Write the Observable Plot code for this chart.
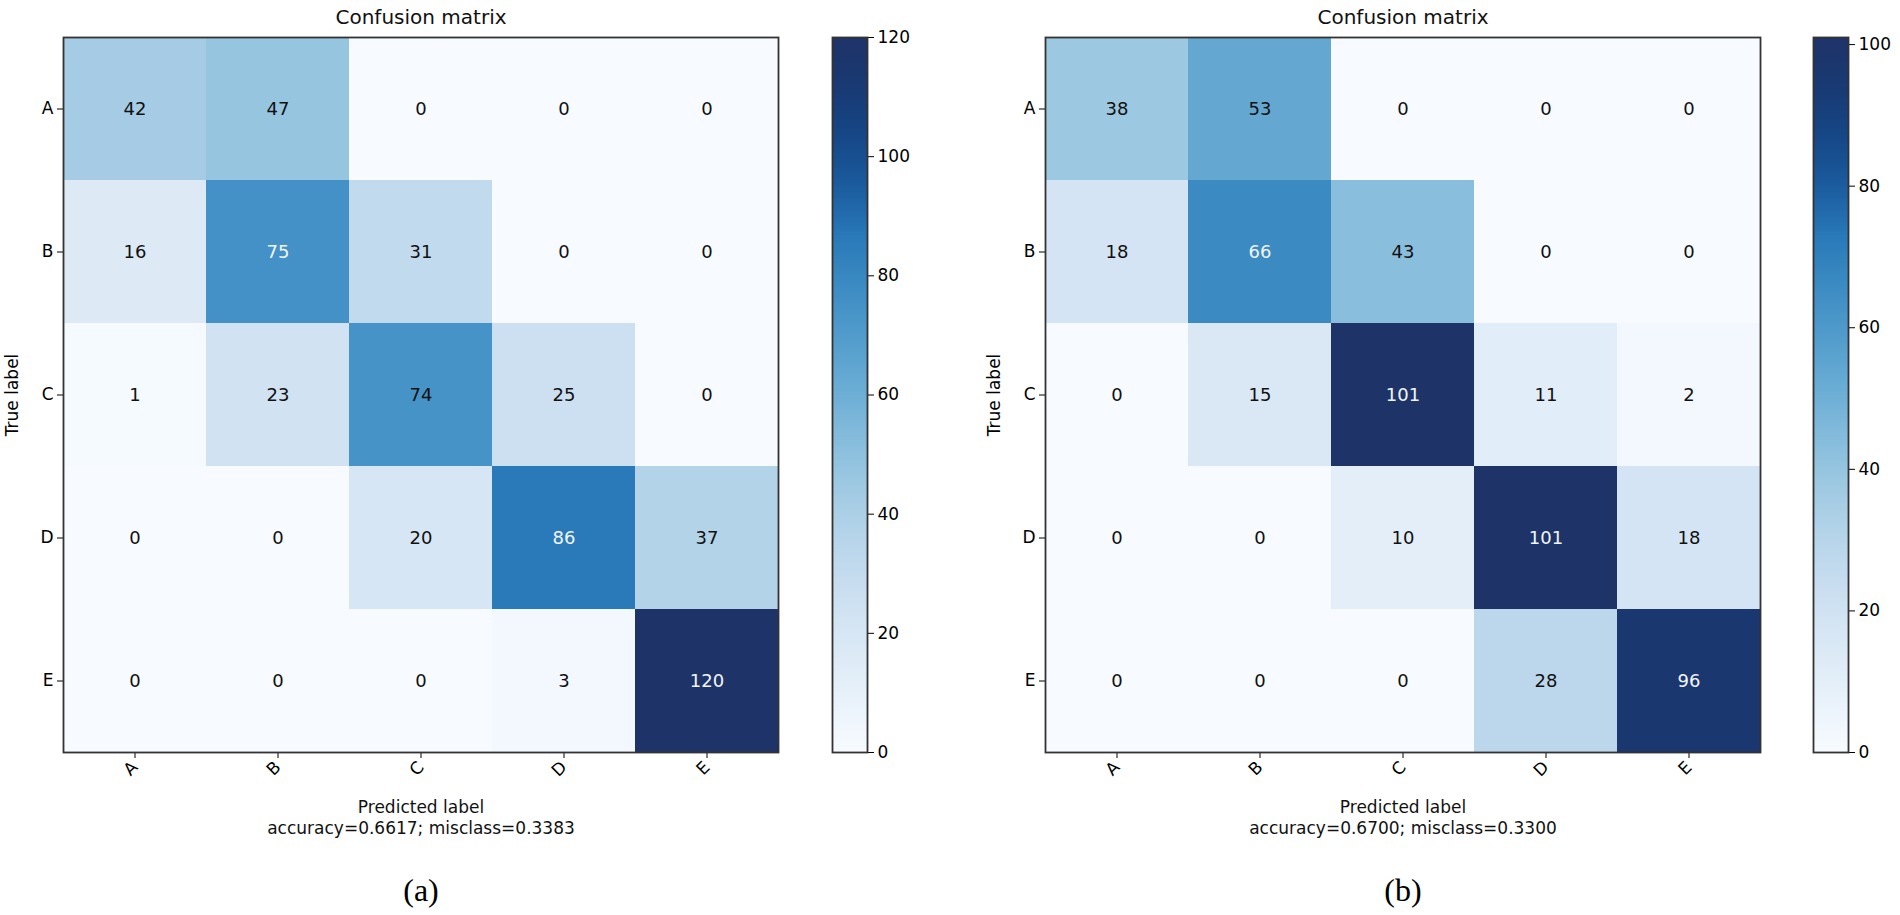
<!DOCTYPE html>
<html>
<head>
<meta charset="utf-8">
<script src="https://cdn.jsdelivr.net/npm/d3@7"></script>
<script src="https://cdn.jsdelivr.net/npm/@observablehq/plot@0.6"></script>
<style>
  html, body { margin: 0; padding: 0; background: #ffffff; }
  #wrap { position: relative; width: 1900px; height: 915px; overflow: hidden; font-family: "DejaVu Sans", sans-serif; }
  .panel { position: absolute; top: 0; }
  svg { overflow: visible; max-width: none !important; }
</style>
</head>
<body>
<div id="wrap"></div>
<script>
// ---- data ----
const classLabels = ["A", "B", "C", "D", "E"];
const matrixA = [
  [42, 47, 0, 0, 0],
  [16, 75, 31, 0, 0],
  [1, 23, 74, 25, 0],
  [0, 0, 20, 86, 37],
  [0, 0, 0, 3, 120]
];
const matrixB = [
  [38, 53, 0, 0, 0],
  [18, 66, 43, 0, 0],
  [0, 15, 101, 11, 2],
  [0, 0, 10, 101, 18],
  [0, 0, 0, 28, 96]
];
const ticksA = [0, 20, 40, 60, 80, 100, 120];
const ticksB = [0, 20, 40, 60, 80, 100];
const titleText = "Confusion matrix";
const xLabelText = "Predicted label";
const yLabelText = "True label";
const statsA = "accuracy=0.6617; misclass=0.3383";
const statsB = "accuracy=0.6700; misclass=0.3300";
const captionA = "(a)";
const captionB = "(b)";

// ---- layout ----
const W = 1900, H = 915;
const frameTop = 37, frameBottom = 752, frameSize = 715;
const FONT = "DejaVu Sans";
const wrap = document.getElementById("wrap");

// matplotlib-like "Blues" with the slightly muted navy end seen in the figure
const navy = "#223569";
const blues = t => {
  const base = d3.interpolateBlues(t);
  const k = Math.max(0, (t - 0.72) / 0.28);
  return d3.interpolateRgb(base, navy)(k * 0.85);
};

function panel(matrix, ticks, stats, caption, frameLeft, barLeft) {
  const vmax = d3.max(matrix.flat());
  const thr = vmax * 0.62;
  const cells = matrix.flatMap((row, i) => row.map((v, j) => ({t: classLabels[i], p: classLabels[j], v})));
  const mLeft = 70;
  const chart = Plot.plot({
    width: mLeft + frameSize + 20,
    height: H,
    marginLeft: mLeft,
    marginRight: 20,
    marginTop: frameTop,
    marginBottom: H - frameBottom,
    style: {fontFamily: FONT, fontSize: "17px", color: "#000", background: "transparent"},
    x: {domain: classLabels, padding: 0, label: null, tickRotate: -45, tickSize: 6, tickPadding: 6},
    y: {domain: classLabels, padding: 0, label: yLabelText, labelAnchor: "center", labelOffset: 58, tickSize: 6, tickPadding: 4},
    color: {type: "linear", interpolate: blues, domain: [0, vmax]},
    marks: [
      Plot.cell(cells, {x: "p", y: "t", fill: "v", shapeRendering: "crispEdges"}),
      Plot.text(cells, {x: "p", y: "t", text: d => String(d.v), fill: d => d.v > thr ? "#f2f5fa" : "#111111", fontSize: 18}),
      Plot.frame({stroke: "#333", strokeWidth: 1.8}),
      Plot.text([titleText], {frameAnchor: "top", dy: -20, lineAnchor: "middle", fontSize: 20, fill: "#111"}),
      Plot.text([xLabelText], {frameAnchor: "bottom", dy: 55, lineAnchor: "middle", fontSize: 17, fill: "#111"}),
      Plot.text([stats], {frameAnchor: "bottom", dy: 76, lineAnchor: "middle", fontSize: 17, fill: "#111"}),
      Plot.text([caption], {frameAnchor: "bottom", dy: 138, lineAnchor: "middle", fontSize: 32, fontFamily: "Liberation Serif", fill: "#000"})
    ]
  });
  const d1 = document.createElement("div");
  d1.className = "panel";
  d1.style.left = (frameLeft - mLeft) + "px";
  d1.style.width = (mLeft + frameSize + 20) + "px";
  d1.appendChild(chart);
  wrap.appendChild(d1);

  // colorbar
  const step = vmax / 300;
  const stops = d3.range(0, vmax, step);
  const barW = 35;
  const barMR = 50;
  const bar = Plot.plot({
    width: barW + barMR,
    height: H,
    marginLeft: 0,
    marginRight: barMR,
    marginTop: frameTop,
    marginBottom: H - frameBottom,
    style: {fontFamily: FONT, fontSize: "17px", color: "#000", background: "transparent"},
    x: {axis: null, domain: [0, 1]},
    y: {domain: [0, vmax], ticks: ticks, tickSize: 6, tickPadding: 4, axis: "right", label: null, tickFormat: d3.format("d")},
    color: {type: "linear", interpolate: blues, domain: [0, vmax]},
    marks: [
      Plot.rect(stops, {x1: 0, x2: 1, y1: d => d, y2: d => Math.min(vmax, d + step * 1.5), fill: d => d, shapeRendering: "crispEdges"}),
      Plot.frame({stroke: "#333", strokeWidth: 1.8})
    ]
  });
  const d2 = document.createElement("div");
  d2.className = "panel";
  d2.style.left = barLeft + "px";
  d2.style.width = (barW + barMR) + "px";
  d2.appendChild(bar);
  wrap.appendChild(d2);
}

panel(matrixA, ticksA, statsA, captionA, 63, 832);
panel(matrixB, ticksB, statsB, captionB, 1045, 1813);
</script>
</body>
</html>
